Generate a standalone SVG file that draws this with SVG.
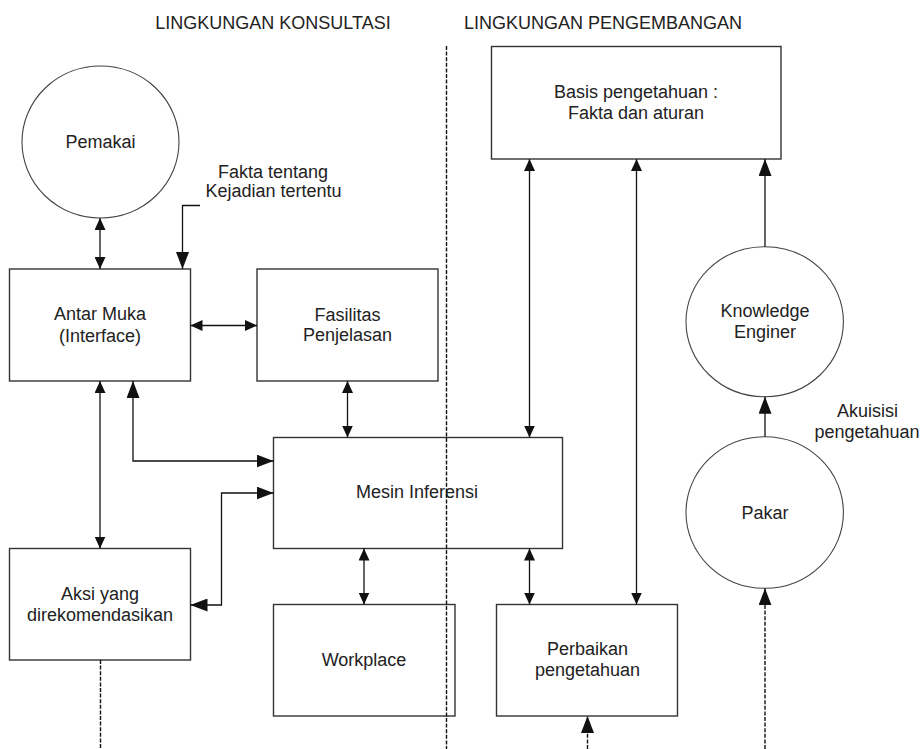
<svg xmlns="http://www.w3.org/2000/svg" width="922" height="749" viewBox="0 0 922 749">
  <style>
    text { font-family: "Liberation Sans", Arial, sans-serif; font-size: 18px; fill: #222; text-anchor: middle; }
    .box { fill: #fff; stroke: #333; stroke-width: 1.4; }
    .circ { fill: #fff; stroke: #444; stroke-width: 1.1; }
    .link { fill: none; stroke: #111; stroke-width: 1.3; }
    .dash { stroke-dasharray: 4 1.6; stroke-width: 1.4; }
    .both { marker-start: url(#head); marker-end: url(#head); }
    .bigboth { marker-start: url(#big); marker-end: url(#big); }
    .end { marker-end: url(#big); }
  </style>
  <defs>
    <marker id="head" viewBox="0 0 12 11" refX="12" refY="5.5" markerWidth="12" markerHeight="11" markerUnits="userSpaceOnUse" orient="auto-start-reverse">
      <path d="M0,0 L12,5.5 L0,11 z" fill="#111"/>
    </marker>
    <marker id="big" viewBox="0 0 17 13" refX="17" refY="6.5" markerWidth="17" markerHeight="13" markerUnits="userSpaceOnUse" orient="auto-start-reverse">
      <path d="M0,0 L17,6.5 L0,13 z" fill="#111"/>
    </marker>
  </defs>

  <rect width="922" height="749" fill="#fff"/>

  <!-- section headings -->
  <g id="headings">
    <text x="273" y="29">LINGKUNGAN KONSULTASI</text>
    <text x="603" y="29">LINGKUNGAN PENGEMBANGAN</text>
  </g>

  <!-- nodes -->
  <g id="pemakai">
    <ellipse class="circ" cx="100.5" cy="142" rx="78.5" ry="76"/>
    <text x="100.5" y="148">Pemakai</text>
  </g>
  <g id="antar-muka">
    <rect class="box" x="9.5" y="269" width="181" height="112"/>
    <text x="100" y="320">Antar Muka</text>
    <text x="100" y="341.5">(Interface)</text>
  </g>
  <g id="fasilitas-penjelasan">
    <rect class="box" x="257" y="269" width="181" height="112"/>
    <text x="347.5" y="320.5">Fasilitas</text>
    <text x="347.5" y="341">Penjelasan</text>
  </g>
  <g id="mesin-inferensi">
    <rect class="box" x="273.5" y="437.5" width="289" height="111"/>
    <text x="417" y="498">Mesin Inferensi</text>
  </g>
  <g id="aksi">
    <rect class="box" x="9.5" y="548.5" width="181" height="111.5"/>
    <text x="100" y="599.5">Aksi yang</text>
    <text x="100" y="620.5">direkomendasikan</text>
  </g>
  <g id="workplace">
    <rect class="box" x="273.5" y="604.5" width="181.5" height="111.5"/>
    <text x="364" y="665.5">Workplace</text>
  </g>
  <g id="basis-pengetahuan">
    <rect class="box" x="491.5" y="46.5" width="289.5" height="112.5"/>
    <text x="636" y="97.5">Basis pengetahuan :</text>
    <text x="636" y="119">Fakta dan aturan</text>
  </g>
  <g id="knowledge-engineer">
    <ellipse class="circ" cx="764.7" cy="321.7" rx="78.7" ry="75"/>
    <text x="765" y="316.5">Knowledge</text>
    <text x="765" y="337.5">Enginer</text>
  </g>
  <g id="pakar">
    <ellipse class="circ" cx="764.7" cy="512.5" rx="78.7" ry="75.8"/>
    <text x="765" y="518.5">Pakar</text>
  </g>
  <g id="perbaikan-pengetahuan">
    <rect class="box" x="496.5" y="604.5" width="181" height="111.5"/>
    <text x="587.5" y="655">Perbaikan</text>
    <text x="587.5" y="676">pengetahuan</text>
  </g>

  <!-- free labels -->
  <g id="labels">
    <text x="273" y="178">Fakta tentang</text>
    <text x="273.5" y="197">Kejadian tertentu</text>
    <text x="867.5" y="416.5">Akuisisi</text>
    <text x="867" y="438">pengetahuan</text>
  </g>

  <!-- connectors -->
  <g id="connectors">
    <path class="link dash" d="M446.5,46 V749"/>
    <path class="link both" d="M100,218 V269"/>
    <path class="link end" d="M200,205.5 H182.5 V269"/>
    <path class="link both" d="M190.5,325.5 H257"/>
    <path class="link both" d="M347.5,381 V437.5"/>
    <path class="link bigboth" d="M133,381 V461 H273.5"/>
    <path class="link bigboth" d="M190.5,605 H221.5 V493 H273.5"/>
    <path class="link both" d="M100,381 V548.5"/>
    <path class="link both" d="M364,548.5 V604.5"/>
    <path class="link dash" d="M100.5,660 V749"/>
    <path class="link both" d="M529.5,159 V437.5"/>
    <path class="link both" d="M636.5,159 V604.5"/>
    <path class="link end" d="M765,246.7 V159"/>
    <path class="link end" d="M765,436.7 V396.7"/>
    <path class="link both" d="M529.5,548.5 V604.5"/>
    <path class="link dash end" d="M587.5,749 V716"/>
    <path class="link dash end" d="M765,749 V588.3"/>
  </g>
</svg>
